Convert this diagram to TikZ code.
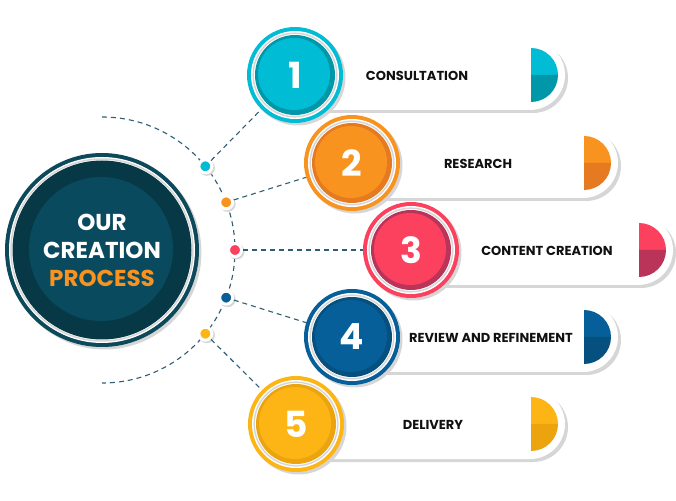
\documentclass[tikz,border=0pt]{standalone}
\usepackage{fontspec}
\newfontfamily\gothic{Poppins}
\usetikzlibrary{calc}
\definecolor{cyanA}{HTML}{00BCD4}
\definecolor{cyanB}{HTML}{0098A8}
\definecolor{orangeA}{HTML}{F8931F}
\definecolor{orangeB}{HTML}{E57A21}
\definecolor{roseA}{HTML}{FC415E}
\definecolor{roseB}{HTML}{BA3459}
\definecolor{blueA}{HTML}{065F98}
\definecolor{blueB}{HTML}{05507F}
\definecolor{goldA}{HTML}{FDB515}
\definecolor{goldB}{HTML}{EBA30E}
\definecolor{hubring}{HTML}{0C4A5B}
\definecolor{hubdark}{HTML}{073846}
\definecolor{hubfill}{HTML}{0A4A5F}
\definecolor{dashcol}{HTML}{2F5E73}
\definecolor{softgrey}{HTML}{D6D6D6}
\definecolor{ink}{HTML}{111111}
\tikzset{
  every picture/.style={x=1pt, y=1pt, line width=0.5pt},
  numring/.style 2 args={circle, minimum size=96pt, inner sep=0pt, fill=#1, text=white,
    font=\gothic\bfseries\fontsize{36}{36}\selectfont,
    preaction={fill=softgrey, transform canvas={xshift=2.5pt, yshift=-2.5pt}},
    path picture={
      \fill[white] (path picture bounding box.center) circle (44pt);
      \draw[softgrey, line width=1.5pt] (path picture bounding box.center) circle (41.8pt);
      \fill[#2] (path picture bounding box.center) circle (40pt);
      \fill[#1] ([shift={(-1pt,1pt)}]path picture bounding box.center) circle (36pt);
    }},
  hub/.style={circle, minimum size=194pt, inner sep=0pt, fill=hubring, text=white, align=center,
    font=\gothic\bfseries\fontsize{23}{28}\selectfont,
    preaction={fill=softgrey, transform canvas={xshift=2.5pt, yshift=-2.5pt}},
    path picture={
      \fill[white] (path picture bounding box.center) circle (93pt);
      \draw[softgrey, line width=1.5pt] (path picture bounding box.center) circle (91pt);
      \fill[hubdark] (path picture bounding box.center) circle (89.5pt);
      \fill[hubfill] ([shift={(-1pt,1pt)}]path picture bounding box.center) circle (72pt);
    }},
  dot/.style={circle, minimum size=13pt, inner sep=0pt, draw=white, line width=3pt, fill=#1,
    preaction={draw=softgrey, fill=softgrey, transform canvas={xshift=1.5pt, yshift=-1.5pt}}},
  dashline/.style={dashcol, line width=1.1pt, dash pattern=on 5pt off 4pt},
  lbl/.style={font=\gothic\bfseries\fontsize{13}{15}\selectfont, text=ink, inner sep=1pt},
}
\begin{document}
\begin{tikzpicture}
  \useasboundingbox (0,0) rectangle (676,500);
  \node[hub] (hub) at (102,250) {OUR\\CREATION\\\textcolor{orangeA}{PROCESS}};
  \draw[dashline] ([shift={(90:133pt)}]hub.center) arc[start angle=90, end angle=-90, radius=133pt];
  \node[dot=cyanA] (d1) at ([shift={(39:133pt)}]hub.center) {};
  \node[dot=orangeA] (d2) at ([shift={(21:133pt)}]hub.center) {};
  \node[dot=roseA] (d3) at ([shift={(0:133pt)}]hub.center) {};
  \node[dot=blueA] (d4) at ([shift={(-21:133pt)}]hub.center) {};
  \node[dot=goldA] (d5) at ([shift={(-39:133pt)}]hub.center) {};
  % rows: number, circle x, y, half disc x, label x, text, colours
  \foreach \i/\cx/\cy/\hx/\lx/\txt/\ca/\cb in {
      1/295/425/531/417/CONSULTATION/cyanA/cyanB,
      2/352/337/584/478/RESEARCH/orangeA/orangeB,
      3/411/250/639/547/CONTENT CREATION/roseA/roseB,
      4/352/163/584/491/REVIEW AND REFINEMENT/blueA/blueB,
      5/296/76/531/433/DELIVERY/goldA/goldB}{
    \fill[softgrey, rounded corners=35pt] (\cx-17,\cy-38) rectangle (\hx+37,\cy+32);
    \fill[white, rounded corners=35pt] (\cx-20,\cy-35) rectangle (\hx+34,\cy+35);
    \fill[\ca] (\hx,\cy) -- ++(0,27) arc[start angle=90, end angle=0, radius=27pt] -- cycle;
    \fill[\cb] (\hx,\cy) -- ++(27,0) arc[start angle=0, end angle=-90, radius=27pt] -- cycle;
    \node[lbl] (t\i) at (\lx,\cy-1) {\txt};
    \node[numring={\ca}{\cb}] (c\i) at (\cx,\cy) {\i};
  }
  \draw[dashline] (d1) -- (c1);
  \draw[dashline] (d2) -- (c2);
  \draw[dashline] (d3) -- (c3);
  \draw[dashline] (d4) -- (c4);
  \draw[dashline] (d5) -- (c5);
\end{tikzpicture}
\end{document}
